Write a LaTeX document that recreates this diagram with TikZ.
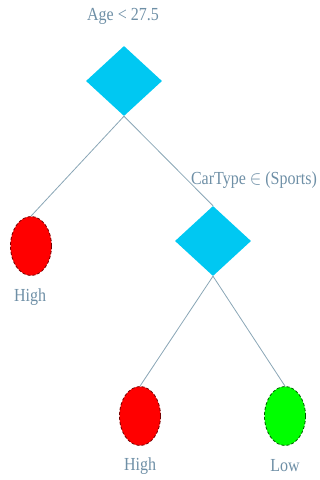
\documentclass[tikz,border=0pt]{standalone}
\usepackage{fontspec}
\setmainfont{Liberation Serif}
\usetikzlibrary{shapes.geometric}
\definecolor{txtc}{HTML}{6E8FA6}
\definecolor{linec}{HTML}{8AA6B6}
\definecolor{diac}{HTML}{00C8F2}
\newcommand{\tallt}[1]{\scalebox{1}[1.15]{#1}}
\begin{document}
\begin{tikzpicture}[x=1pt,y=-1pt,
  test/.style={diamond,fill=diac,draw=none,inner sep=0pt,minimum width=76pt,minimum height=70pt},
  leafred/.style={ellipse,fill=red,draw=red!45!black,densely dashed,line width=0.8pt,inner sep=0pt,minimum width=41pt,minimum height=59pt},
  leafgreen/.style={ellipse,fill=green,draw=green!35!black,densely dashed,line width=0.8pt,inner sep=0pt,minimum width=41pt,minimum height=59pt},
  lbl/.style={text=txtc,font=\fontsize{16}{18}\selectfont,inner sep=0pt},
  edge/.style={draw=linec,line width=0.8pt}]
\useasboundingbox (0,0) rectangle (320,480);
\node[test] (d1) at (124,81) {};
\node[test] (d2) at (213,241) {};
\node[leafred] (l1) at (31,246) {};
\node[leafred] (l2) at (140,416) {};
\node[leafgreen] (l3) at (285,416) {};
\node[lbl] (t1) at (123,16) {\tallt{Age < 27.5}};
\node[lbl] (t2) at (254,180) {\tallt{CarType $\in$ (Sports)}};
\node[lbl] (t3) at (30,297) {\tallt{High}};
\node[lbl] (t4) at (140,466) {\tallt{High}};
\node[lbl] (t5) at (285,466) {\tallt{Low}};
\draw[edge] (d1.south) -- (l1.north);
\draw[edge] (d1.south) -- (d2.north);
\draw[edge] (d2.south) -- (l2.north);
\draw[edge] (d2.south) -- (l3.north);
\end{tikzpicture}
\end{document}
